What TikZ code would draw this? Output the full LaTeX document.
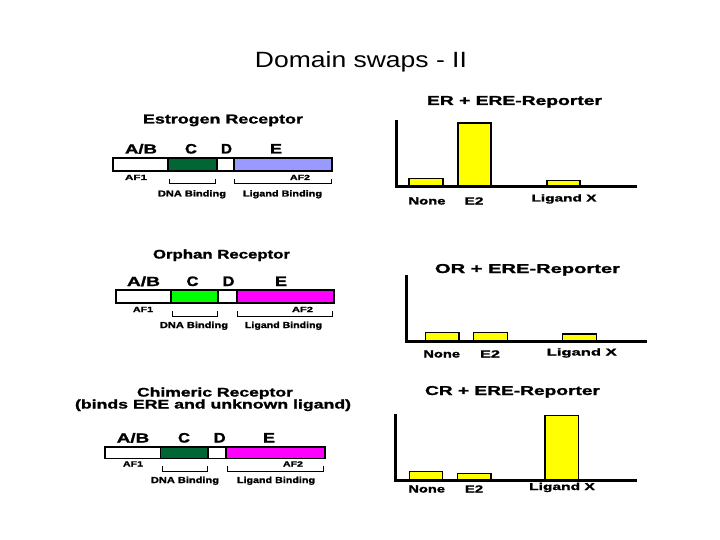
\documentclass[tikz,border=0pt]{standalone}
\usepackage{fontspec}
\setmainfont{Liberation Sans}[BoldFeatures={FakeBold=1.2}]
\usepackage{graphicx}
\definecolor{dgreen}{RGB}{0,102,51}
\definecolor{lblue}{RGB}{153,153,255}
\definecolor{bgreen}{RGB}{0,255,0}
\definecolor{mag}{RGB}{255,0,255}
\definecolor{yel}{RGB}{255,255,0}
\newcommand{\fb}[3]{\resizebox{#1pt}{#2pt}{\textbf{#3}}}
\newcommand{\fr}[3]{\resizebox{#1pt}{#2pt}{#3}}
\begin{document}
\begin{tikzpicture}[x=1pt,y=-1pt,
  txt/.style={inner sep=0pt, anchor=base},
  seg/.style={draw=black, line width=1.5pt},
  brk/.style={draw=black, line width=1pt},
  axisline/.style={draw=black, line width=3pt},
  barbox/.style={draw=black, fill=yel, line width=1.5pt}]
\useasboundingbox[fill=white] (0,0) rectangle (720,540);

\node[txt] (title) at (361,67.5) {\fr{212}{16}{Domain swaps - II}};

% ---------- Estrogen receptor ----------
\node[txt] (ertitle) at (223,123.5) {\fb{160}{9}{Estrogen Receptor}};
\node[txt] (erab) at (141,153.5) {\fb{32}{9.5}{A/B}};
\node[txt] (erc) at (191,153.5) {\fb{12}{9.5}{C}};
\node[txt] (erd) at (226.5,153.5) {\fb{11}{9.5}{D}};
\node[txt] (ere) at (276,153.5) {\fb{12}{9.5}{E}};
\path[seg, fill=white] (113,158) rectangle (168,171);
\path[seg, fill=dgreen] (168,158) rectangle (217,171);
\path[seg, fill=white] (217,158) rectangle (234,171);
\path[seg, fill=lblue] (234,158) rectangle (332,171);
\node[txt] (eraf1) at (136,180) {\fb{22}{5.2}{AF1}};
\node[txt] (eraf2) at (300,180) {\fb{20}{5.2}{AF2}};
\draw[brk] (169,179) -- (169,184) -- (215,184) -- (215,179);
\draw[brk] (234,179) -- (234,184) -- (331,184) -- (331,179);
\node[txt] (erdna) at (192,196.5) {\fb{68}{6.3}{DNA Binding}};
\node[txt] (erlig) at (282.5,196.5) {\fb{79}{6.3}{Ligand Binding}};

% ---------- Orphan receptor ----------
\node[txt] (ortitle) at (221.5,258.5) {\fb{137}{9}{Orphan Receptor}};
\node[txt] (orab) at (143.5,286) {\fb{33}{9.5}{A/B}};
\node[txt] (orc) at (192.5,286) {\fb{12}{9.5}{C}};
\node[txt] (ord) at (228.5,286) {\fb{12}{9.5}{D}};
\node[txt] (ore) at (281,286) {\fb{12}{9.5}{E}};
\path[seg, fill=white] (116,290) rectangle (171,303);
\path[seg, fill=bgreen] (171,290) rectangle (218,303);
\path[seg, fill=white] (218,290) rectangle (237,303);
\path[seg, fill=mag] (237,290) rectangle (334,303);
\node[txt] (oraf1) at (143,312) {\fb{20}{5.2}{AF1}};
\node[txt] (oraf2) at (302.5,312) {\fb{21}{5.2}{AF2}};
\draw[brk] (172,311) -- (172,316) -- (217,316) -- (217,311);
\draw[brk] (237,311) -- (237,316) -- (332,316) -- (332,311);
\node[txt] (ordna) at (194,328) {\fb{68}{6.3}{DNA Binding}};
\node[txt] (orlig) at (283.5,328) {\fb{77}{6.3}{Ligand Binding}};

% ---------- Chimeric receptor ----------
\node[txt] (crtitle) at (215,396.5) {\fb{156}{9}{Chimeric Receptor}};
\node[txt] (crsub) at (213,408.5) {\fb{276}{9}{(binds ERE and unknown ligand)}};
\node[txt] (crab) at (133,442.5) {\fb{32.5}{9.5}{A/B}};
\node[txt] (crc) at (184,442.5) {\fb{12}{9.5}{C}};
\node[txt] (crd) at (219.7,442.5) {\fb{12}{9.5}{D}};
\node[txt] (cre) at (269,442.5) {\fb{12}{9.5}{E}};
\path[seg, fill=white] (105,447) rectangle (160.7,458.3);
\path[seg, fill=dgreen] (160.7,447) rectangle (208,458.3);
\path[seg, fill=white] (208,447) rectangle (226,458.3);
\path[seg, fill=mag] (226,447) rectangle (325,458.3);
\node[txt] (craf1) at (133,466.5) {\fb{20}{5.2}{AF1}};
\node[txt] (craf2) at (293,466.5) {\fb{20}{5.2}{AF2}};
\draw[brk] (162,466) -- (162,471) -- (207,471) -- (207,466);
\draw[brk] (227,466) -- (227,471) -- (323,471) -- (323,466);
\node[txt] (crdna) at (185,483) {\fb{68}{6.3}{DNA Binding}};
\node[txt] (crlig) at (276,483) {\fb{78}{6.3}{Ligand Binding}};

% ---------- Chart ER ----------
\node[txt] (c1title) at (514.5,105) {\fb{175}{9}{ER + ERE-Reporter}};
\path[barbox] (409,186) rectangle (443,178.5);
\path[barbox] (458,186) rectangle (491,123);
\path[barbox] (547,186) rectangle (580,180.5);
\draw[axisline] (396,120) -- (396,186.5) -- (637,186.5);
\node[txt] (c1none) at (427,204.5) {\fb{37}{7.2}{None}};
\node[txt] (c1e2) at (474,204.5) {\fb{19}{7.2}{E2}};
\node[txt] (c1lx) at (564,201.5) {\fb{65}{7.2}{Ligand X}};

% ---------- Chart OR ----------
\node[txt] (c2title) at (527.5,273) {\fb{185}{9}{OR + ERE-Reporter}};
\path[barbox] (425.7,341.5) rectangle (459,332.3);
\path[barbox] (473.3,341.5) rectangle (507.3,332.3);
\path[barbox] (562.3,341.5) rectangle (596.7,334);
\draw[axisline] (406,275) -- (406,341.7) -- (646.7,341.7);
\node[txt] (c2none) at (441.7,357.5) {\fb{36.7}{7.2}{None}};
\node[txt] (c2e2) at (490,357.5) {\fb{20}{7.2}{E2}};
\node[txt] (c2lx) at (581.7,355.5) {\fb{70}{7.2}{Ligand X}};

% ---------- Chart CR ----------
\node[txt] (c3title) at (512.5,395) {\fb{175}{9}{CR + ERE-Reporter}};
\path[barbox] (409.3,480) rectangle (442.7,471.7);
\path[barbox] (457.3,480) rectangle (491,473.7);
\path[barbox] (545,480) rectangle (578.3,415.7);
\draw[axisline] (395.7,414.3) -- (395.7,480) -- (636.7,480);
\node[txt] (c3none) at (426.7,492.5) {\fb{36.7}{7.2}{None}};
\node[txt] (c3e2) at (474,492.5) {\fb{18.3}{7.2}{E2}};
\node[txt] (c3lx) at (562,490) {\fb{65.7}{7.2}{Ligand X}};
\end{tikzpicture}
\end{document}
